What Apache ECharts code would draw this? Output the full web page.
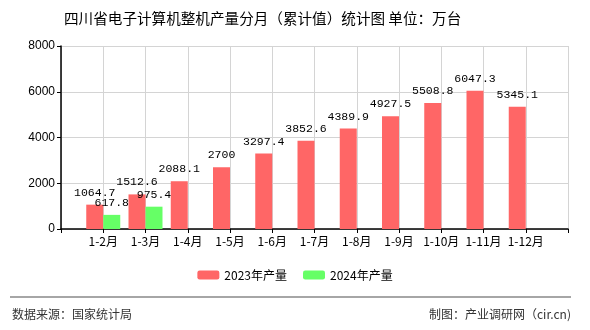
<!DOCTYPE html>
<html>
<head>
<meta charset="utf-8">
<script src="https://cdn.jsdelivr.net/npm/echarts@6/dist/echarts.min.js"></script>
<style>html,body{margin:0;padding:0;background:#fff}#c{width:590px;height:330px}</style>
</head>
<body>
<div id="c"></div>
<script>
var categories = ['1-2月','1-3月','1-4月','1-5月','1-6月','1-7月','1-8月','1-9月','1-10月','1-11月','1-12月'];
var values2023 = [1064.7,1512.6,2088.1,2700,3297.4,3852.6,4389.9,4927.5,5508.8,6047.3,5345.1];
var values2024 = [617.8,975.4];
var yTicks = [0,2000,4000,6000,8000];
var seriesNames = ['2023年产量','2024年产量'];

var axisData = [''].concat(categories).concat(['']);
function pad(arr){
  var out = [null];
  for (var i=0;i<categories.length;i++){ out.push(i<arr.length?arr[i]:null); }
  out.push(null);
  return out;
}
var chart = echarts.init(document.getElementById('c'));
var labelStyle = {show:true, position:'top', color:'#000', fontFamily:'Liberation Mono, monospace', fontSize:11.5, distance:6,
  formatter:function(p){return p.value==null?'':String(p.value);}};
chart.setOption({
  animation:false,
  backgroundColor:'#fff',
  title:{text:'四川省电子计算机整机产量分月（累计值）统计图 单位：万台', left:59, top:6,
    textStyle:{fontSize:14.6, fontWeight:'normal', color:'#000', fontFamily:'Noto Sans CJK SC, sans-serif'}},
  grid:{left:61, right:22, top:46, bottom:101},
  legend:{data:seriesNames, bottom:44, left:'center', itemWidth:22, itemHeight:9, itemGap:16,
    textStyle:{fontSize:12, color:'#000', fontFamily:'Noto Sans CJK SC, sans-serif'}},
  xAxis:{type:'category', data:axisData, boundaryGap:false,
    axisLine:{lineStyle:{color:'#000', width:1.5}},
    axisTick:{show:true, length:4, interval:0, lineStyle:{color:'#000'}},
    axisLabel:{color:'#000', fontSize:12, margin:6, interval:0, fontFamily:'Noto Sans CJK SC, sans-serif'},
    splitLine:{show:true, interval:0, lineStyle:{color:'#d4d4d4', width:1}}},
  yAxis:{type:'value', min:yTicks[0], max:yTicks[yTicks.length-1], interval:2000,
    axisLine:{show:true, lineStyle:{color:'#000', width:1.5}},
    axisTick:{show:true, length:4, lineStyle:{color:'#000'}},
    axisLabel:{color:'#000', fontSize:12, margin:6, fontFamily:'Liberation Sans, sans-serif',
      formatter:function(v){return String(v);}},
    splitLine:{show:true, lineStyle:{color:'#d4d4d4', width:1}}},
  series:[
    {name:seriesNames[0], type:'bar', data:pad(values2023), barWidth:17, barGap:'0%',
      itemStyle:{color:'#ff6666'}, label:labelStyle},
    {name:seriesNames[1], type:'bar', data:pad(values2024), barWidth:17, barGap:'0%',
      itemStyle:{color:'#66ff66'}, label:labelStyle}
  ],
  graphic:[
    {type:'line', shape:{x1:10,y1:297,x2:571,y2:297}, style:{stroke:'#888', lineWidth:1.5}},
    {type:'text', left:12, top:308, style:{text:'数据来源：国家统计局', fill:'#333', fontSize:12, fontFamily:'Noto Sans CJK SC, sans-serif'}},
    {type:'text', right:19, top:308, style:{text:'制图：产业调研网（cir.cn)', fill:'#333', fontSize:12, fontFamily:'Noto Sans CJK SC, sans-serif'}}
  ]
});
</script>
</body>
</html>
